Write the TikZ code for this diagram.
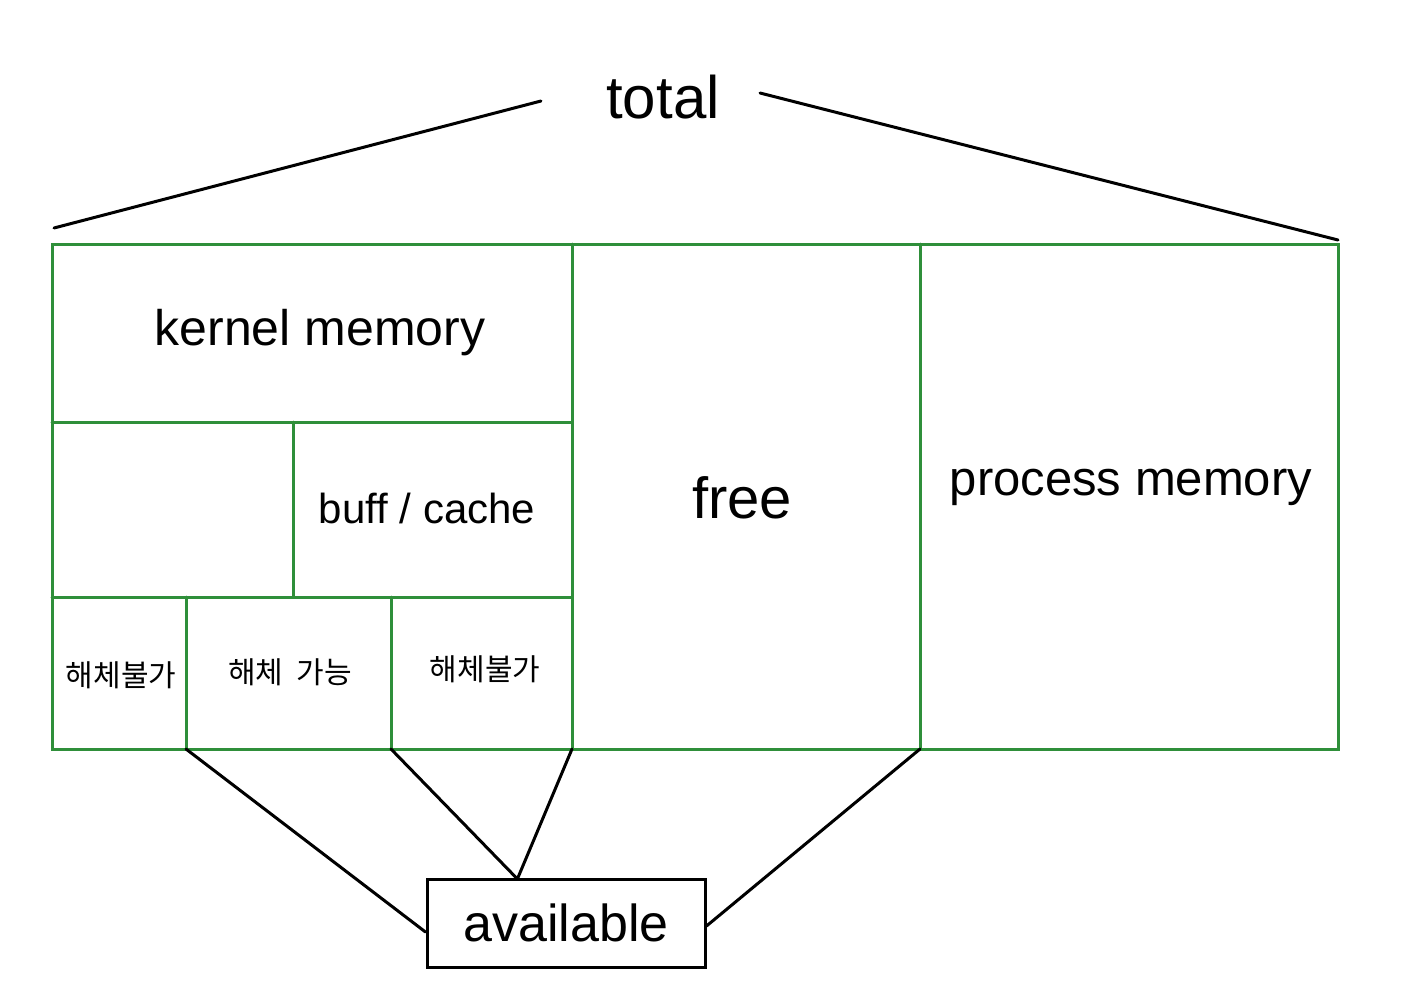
\documentclass[tikz,border=0pt]{standalone}
\usepackage{fontspec}
\setmainfont{Liberation Sans}
\newfontfamily\kr{Noto Sans CJK KR}
\definecolor{grn}{HTML}{2F8F3A}
\begin{document}
\begin{tikzpicture}[x=1pt,y=-1pt,
  cellline/.style={draw=grn,line width=3pt,line cap=round},
  conn/.style={draw=black,line width=3pt,line cap=round},
  lbl/.style={inner sep=0pt,anchor=center},
  krlbl/.style={inner sep=0pt,anchor=center,font=\kr\fontsize{30}{32}\selectfont},
  boxnode/.style={draw=black,line width=3pt,minimum width=278pt,minimum height=88pt,inner sep=0pt}]
\useasboundingbox (0,0) rectangle (1407,996);
% coordinates of the grid
\coordinate (TL) at (52,244);
\coordinate (BR) at (1338,749);
\coordinate (kmBL) at (52,422);
\coordinate (kmBR) at (572,422);
\coordinate (ftop) at (572,244);
\coordinate (fbot) at (572,749);
\coordinate (ptop) at (920,244);
\coordinate (pbot) at (920,749);
\coordinate (bcTop) at (293,422);
\coordinate (bcBot) at (293,597);
\coordinate (rowL) at (52,597);
\coordinate (rowR) at (572,597);
\coordinate (c1top) at (186,597);
\coordinate (c1bot) at (186,749);
\coordinate (c2top) at (391,597);
\coordinate (c2bot) at (391,749);
% green grid
\path[cellline] (TL) rectangle (BR);
\path[cellline] (ftop) -- (fbot);
\path[cellline] (ptop) -- (pbot);
\path[cellline] (kmBL) -- (kmBR);
\path[cellline] (bcTop) -- (bcBot);
\path[cellline] (rowL) -- (rowR);
\path[cellline] (c1top) -- (c1bot);
\path[cellline] (c2top) -- (c2bot);
% labels
\node[lbl,font=\fontsize{60}{62}\selectfont] (total) at (663,97) {total};
\node[lbl,font=\fontsize{50}{52}\selectfont] (kernel) at (320,333) {kernel memory};
\node[lbl,font=\fontsize{42}{44}\selectfont] (cache) at (427,508) {buff / cache};
\node[lbl,font=\fontsize{58}{60}\selectfont] (free) at (742,498) {free};
\node[lbl,font=\fontsize{49}{51}\selectfont] (proc) at (1131,487) {process memory};
\node[krlbl] (nf1) at (121,675) {해체불가};
\node[krlbl] (fr) at (290,672) {해체\ \ 가능};
\node[krlbl] (nf2) at (485,669) {해체불가};
% available box
\node[boxnode,font=\fontsize{52}{54}\selectfont] (avail) at (566,923) {available};
% total lines
\coordinate (tlA) at (54,228);
\coordinate (tlB) at (541,101);
\coordinate (trA) at (760,93);
\coordinate (trB) at (1338,240);
\path[conn] (tlA) -- (tlB);
\path[conn] (trA) -- (trB);
% available connectors
\path[conn] (c1bot) -- ([yshift=-9pt]avail.west);
\path[conn] (c2bot) -- ([xshift=-50pt]avail.north);
\path[conn] (fbot) -- ([xshift=-48pt]avail.north);
\path[conn] (pbot) -- ([yshift=-3pt]avail.east);
\end{tikzpicture}
\end{document}
